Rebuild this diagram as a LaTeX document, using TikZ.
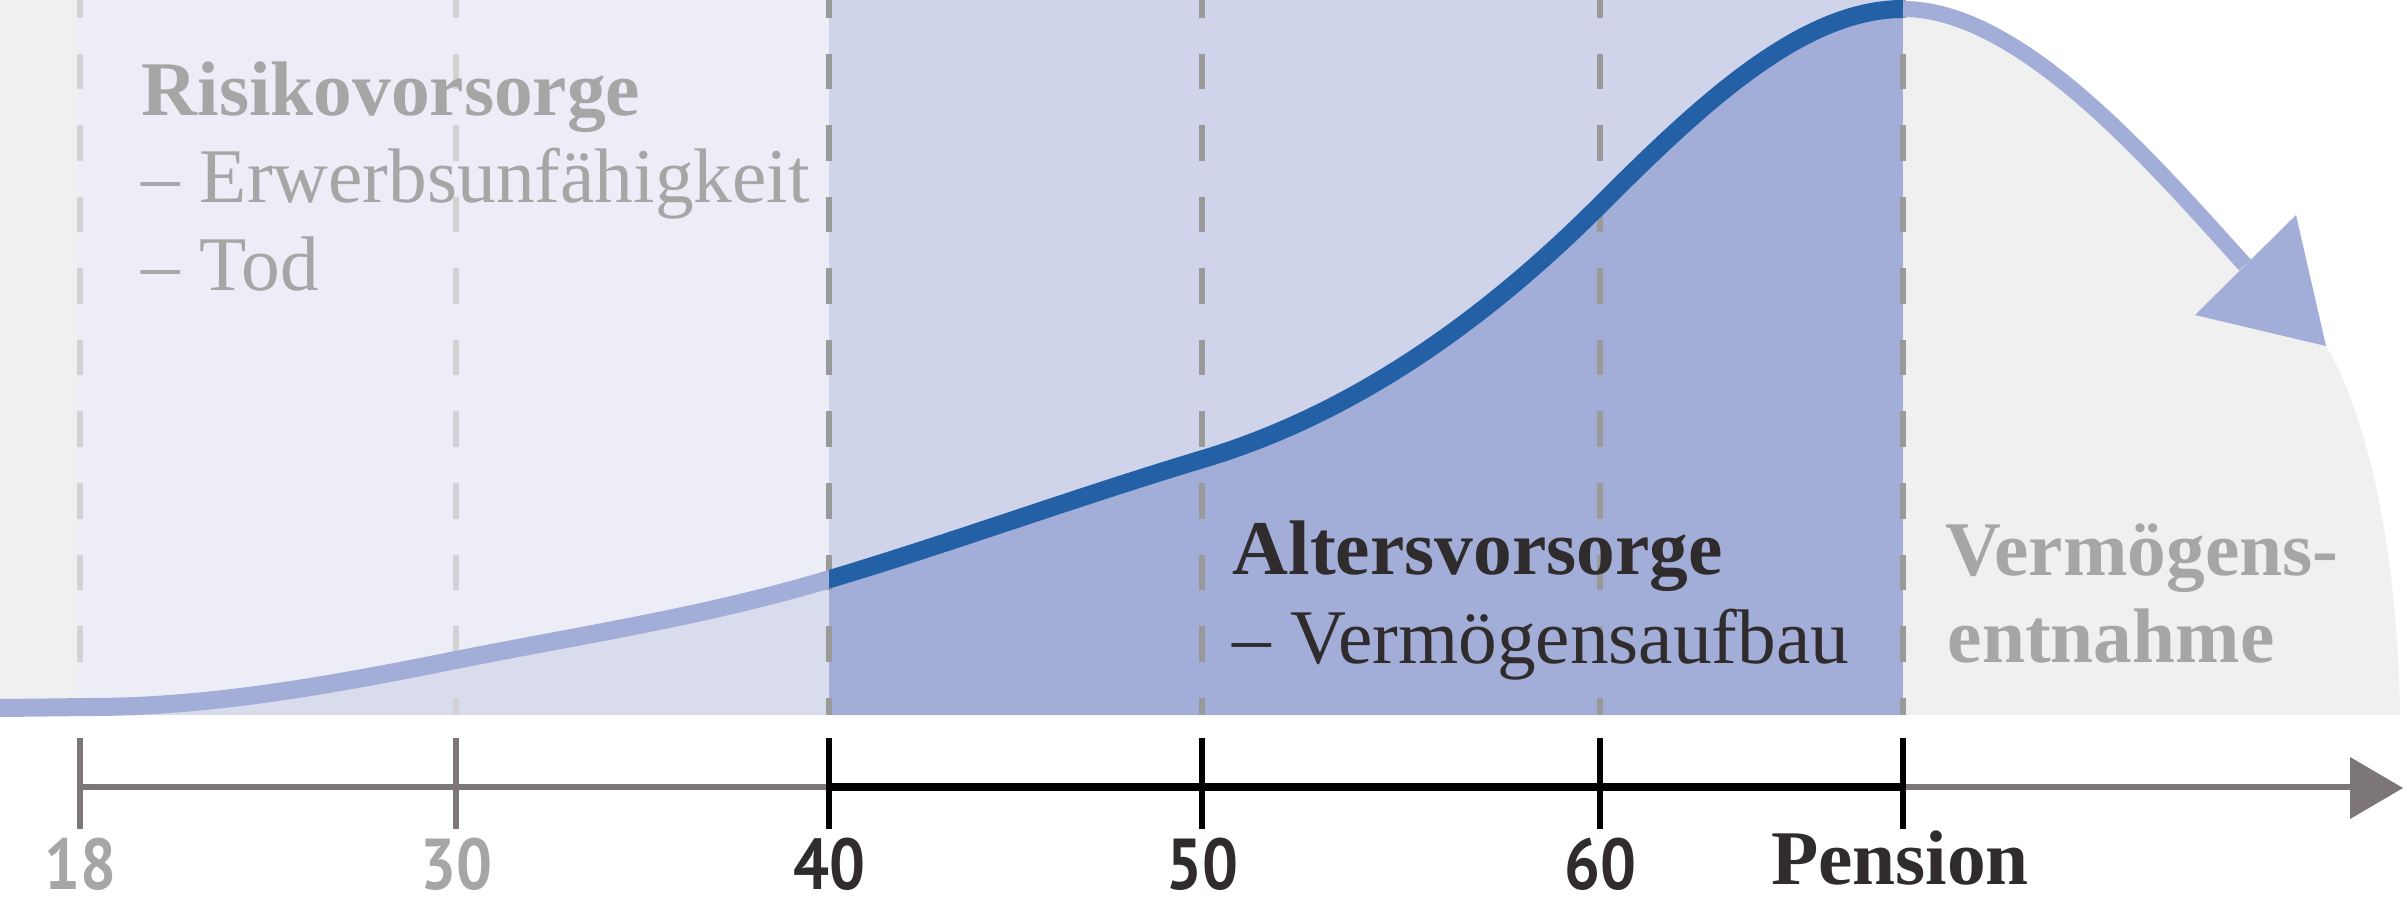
\documentclass[tikz,border=0pt]{standalone}
\usepackage{fontspec}
\setmainfont{Liberation Serif}
\newfontfamily\numfont[FakeStretch=0.88]{PT Sans}
\definecolor{cStrip}{HTML}{F0F0F0}
\definecolor{cLavA}{HTML}{ECEDF6}
\definecolor{cLavAu}{HTML}{D9DCEC}
\definecolor{cLavB}{HTML}{CFD4EA}
\definecolor{cBlueL}{HTML}{A2AED8}
\definecolor{cBlueD}{HTML}{2460A6}
\definecolor{cDashL}{HTML}{D2D2D2}
\definecolor{cDashD}{HTML}{9A9A9A}
\definecolor{cAxis}{HTML}{7D7676}
\definecolor{cTxtG}{HTML}{A6A6A6}
\definecolor{cTxtD}{HTML}{302B2D}
\begin{document}
\begin{tikzpicture}[x=0.01cm,y=-0.01cm,
  risepath/.style={insert path={(0,708) -- (90,707)
     .. controls (212,707) and (334,684.4) .. (456,660)
     .. controls (580.7,635.1) and (705.3,616.4) .. (830,579)
     .. controls (954.3,541.7) and (1078.7,496.3) .. (1203,459)
     .. controls (1335,419.4) and (1467,338) .. (1599,206)
     .. controls (1700.3,104.7) and (1801.7,9) .. (1903,9)}},
  dashln/.style={line width=0.055cm, dash pattern=on 0.355cm off 0.36cm, dash phase=0.1775cm},
  curveln/.style={line width=0.18cm},
  tickln/.style={line width=0.055cm},
  txtbold/.style={font=\fontsize{22pt}{26pt}\selectfont\bfseries, inner sep=0pt, anchor=base west},
  txtreg/.style={font=\fontsize{22pt}{26pt}\selectfont, inner sep=0pt, anchor=base west},
  numlbl/.style={font=\numfont\fontsize{20.5pt}{24pt}\selectfont\bfseries, inner sep=0pt, text depth=0pt, anchor=base}
]
\path[use as bounding box] (0,0) rectangle (2407,906);
% backgrounds
\fill[cStrip] (0,0) rectangle (78,715);
\fill[cLavA] (78,0) rectangle (829,715);
\fill[cLavB] (829,0) rectangle (1903,715);
\begin{scope}
  \clip (78,0) rectangle (829,715);
  \fill[cLavAu, risepath] -- (1903,715) -- (0,715) -- cycle;
\end{scope}
\begin{scope}
  \clip (829,0) rectangle (1903,715);
  \fill[cBlueL, risepath] -- (1903,715) -- (0,715) -- cycle;
\end{scope}
% withdrawal region
\fill[cStrip] (1903,715) -- (1903,9) .. controls (2020,9) and (2150,160) .. (2245,265)
  -- (2326,346) .. controls (2370,420) and (2398,560) .. (2400,715) -- cycle;
% dashed lines
\foreach \x in {80,456} \draw[dashln, cDashL] (\x,0) -- (\x,715);
\foreach \x in {829,1202,1600,1903} \draw[dashln, cDashD] (\x,0) -- (\x,715);
% rising curve
\begin{scope}
  \clip (-10,-10) rectangle (829,730);
  \draw[cBlueL, curveln, risepath];
\end{scope}
\begin{scope}
  \clip (829,-10) rectangle (1903,730);
  \draw[cBlueD, curveln, risepath];
\end{scope}
% descending arrow
\draw[cBlueL, line width=0.16cm] (1903,9) .. controls (2020,9) and (2150,160) .. (2245,265);
\fill[cBlueL] (2195,315) -- (2296,215) -- (2326,346) -- cycle;
% axis
\draw[cAxis, line width=0.06cm] (80,787) -- (829,787);
\draw[black, line width=0.08cm] (829,787) -- (1903,787);
\draw[cAxis, line width=0.06cm] (1903,787) -- (2352,787);
\fill[cAxis] (2350,757) -- (2403,788) -- (2350,819) -- cycle;
\foreach \x in {80,456} \draw[tickln, cAxis] (\x,738) -- (\x,829);
\foreach \x in {829,1202,1600,1903} \draw[tickln, black] (\x,738) -- (\x,829);
% axis labels
\node[numlbl, cTxtG] (n18) at (80,889) {18};
\node[numlbl, cTxtG] (n30) at (456,889) {30};
\node[numlbl, cTxtD] (n40) at (829,889) {40};
\node[numlbl, cTxtD] (n50) at (1202,889) {50};
\node[numlbl, cTxtD] (n60) at (1600,889) {60};
\node[txtbold, cTxtD, anchor=base] (pens) at (1900,884) {Pension};
% texts
\node[txtbold, cTxtG] (risk) at (141,115) {Risikovorsorge};
\node[txtreg, cTxtG] (erw) at (141,202) {– Erwerbsunfähigkeit};
\node[txtreg, cTxtG] (tod) at (141,290) {– Tod};
\node[txtbold, cTxtD] (alt) at (1232,574) {Altersvorsorge};
\node[txtreg, cTxtD] (vauf) at (1232,663) {– Vermögensaufbau};
\node[txtbold, cTxtG] (ent1) at (1945,575) {Vermögens-};
\node[txtbold, cTxtG] (ent2) at (1947,662) {entnahme};
\end{tikzpicture}
\end{document}
